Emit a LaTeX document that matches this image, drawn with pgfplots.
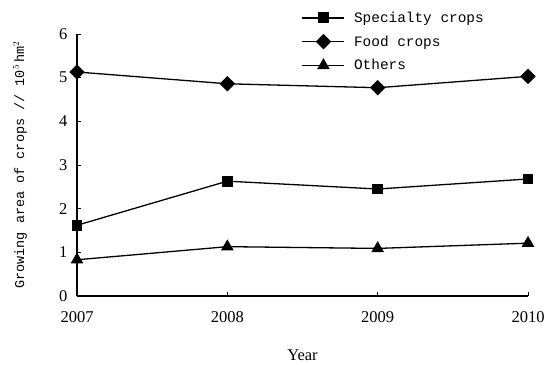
\documentclass[border=0pt]{standalone}
\usepackage{pgfplots}
\pgfplotsset{compat=1.18}
\usepackage{fontspec}
\setmainfont{Liberation Serif}
\setmonofont{Liberation Mono}
\begin{document}
\begin{tikzpicture}[x=1bp,y=1bp]
\useasboundingbox (-77,-68) rectangle (470,296);
\begin{axis}[
  at={(0,0)}, anchor=south west,
  scale only axis,
  width=451bp, height=262bp,
  xmin=2007, xmax=2010, ymin=0, ymax=6,
  xtick={2007,2008,2009,2010},
  xticklabels={2007,2008,2009,2010},
  ytick={0,1,2,3,4,5,6},
  axis x line*=bottom, axis y line*=left,
  axis line style={line width=1.2bp, -},
  tick style={black, line width=0.8pt},
  major tick length=4bp,
  tick align=inside,
  tick label style={font=\fontsize{16.5bp}{16.5bp}\selectfont},
  /pgf/number format/assume math mode=true,
  xticklabel style={yshift=-12bp},
  yticklabel style={xshift=-6bp},
  xlabel={Year}, ylabel={\ttfamily Growing area of crops // 10$^5$\,hm$^2$},
  xlabel style={font=\fontsize{16.5bp}{16.5bp}\selectfont, at={(rel axis cs:0.5,0)}, anchor=center, yshift=-59bp},
  ylabel style={font=\fontsize{13.5bp}{13.5bp}\selectfont, at={(rel axis cs:0,0.5)}, anchor=center, yshift=57bp},
  legend style={draw=none, fill=none, at={(0.498,1.085)}, anchor=north west,
    font=\ttfamily\fontsize{14.4bp}{14bp}\selectfont, row sep=11bp, column sep=9bp, inner sep=0pt,
    nodes={inner sep=0bp}},
  legend cell align=left,
  legend image code/.code={\draw[mark repeat=2,mark phase=2] plot coordinates {(0bp,0bp) (21bp,0bp) (42bp,0bp)};},
  clip=false,
]
\addplot[black, line width=1.3bp, mark=square*, mark size=4.8bp] coordinates {
  (2007,1.62) (2008,2.63) (2009,2.45) (2010,2.68)};
\addlegendentry{Specialty crops}
\addplot[black, line width=1.3bp, mark=square*, mark size=4.8bp, mark options={rotate=45}] coordinates {
  (2007,5.13) (2008,4.86) (2009,4.77) (2010,5.03)};
\addlegendentry{Food crops}
\addplot[black, line width=1.3bp, mark=triangle*, mark size=6bp] coordinates {
  (2007,0.83) (2008,1.13) (2009,1.09) (2010,1.21)};
\addlegendentry{Others}
\end{axis}
\end{tikzpicture}
\end{document}
